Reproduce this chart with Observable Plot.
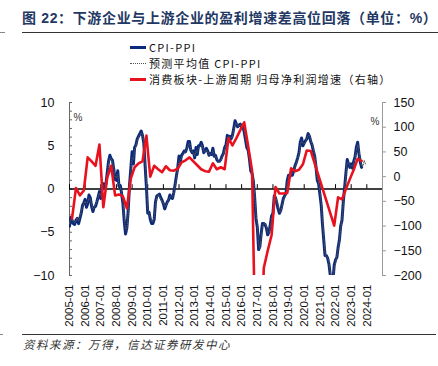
<!DOCTYPE html>
<html><head><meta charset="utf-8">
<script src="https://cdn.jsdelivr.net/npm/d3@7"></script>
<script src="https://cdn.jsdelivr.net/npm/@observablehq/plot@0.6"></script>
<style>
body{margin:0;background:#fff;}
#wrap{position:relative;width:438px;height:366px;overflow:hidden;background:#fff;}
#title{position:absolute;left:22px;top:10px;font-size:14px;line-height:17px;font-weight:bold;color:#1f3864;white-space:nowrap;font-family:"Liberation Sans","Noto Sans CJK SC",sans-serif;letter-spacing:0.65px;}
.hr{position:absolute;height:0;}
#legend{position:absolute;left:130px;top:39px;font-family:"Noto Sans CJK SC",sans-serif;font-size:11px;color:#111;letter-spacing:1.3px;}
.row{height:16px;display:flex;align-items:center;white-space:pre;}
.sw{width:16px;height:0;margin-right:3px;}
#source{position:absolute;left:23px;top:337px;font-family:"Noto Sans CJK SC",sans-serif;font-size:11.5px;line-height:15px;font-style:italic;color:#333;letter-spacing:1.5px;white-space:nowrap;}
#chart{position:absolute;left:0;top:0;}
</style></head>
<body><div id="wrap">
<div id="title">图 22：下游企业与上游企业的盈利增速差高位回落（单位：%）</div>
<div class="hr" style="left:22px;top:32px;width:416px;border-top:1.4px solid #333;"></div>
<div class="hr" style="left:0;top:32px;width:5px;border-top:1px solid #888;"></div>
<div id="chart"></div>
<div id="legend"></div>
<div class="hr" style="left:22px;top:334px;width:414px;border-top:1.4px solid #333;"></div>
<div class="hr" style="left:0;top:334px;width:3px;border-top:1px solid #888;"></div>
<div id="source">资料来源：万得，信达证券研发中心</div>
</div>
<script>
// ---- data ----
const seriesNames = ["CPI-PPI", "预测平均值 CPI-PPI", "消费板块-上游周期 归母净利润增速（右轴）"];
const monthlyStart = "2005-01";
const cpiPpi = [
 -4.3,-3.3,-3.6,-4.0,-4.1,-3.6,-3.4,-4.0,-3.4,-2.8,-1.9,-1.6,
 -1.2,-2.1,-1.7,-0.7,-1.0,-2.0,-2.6,-2.1,-2.0,-1.5,-0.9,-0.3,
 -1.1,0.1,0.6,0.2,0.6,1.9,3.2,3.9,3.5,3.3,2.3,1.1,
 1.0,2.1,0.3,0.4,-0.5,-1.7,-3.7,-5.2,-4.5,-2.6,0.4,2.3,
 4.3,2.9,4.8,5.1,5.8,6.1,6.4,6.7,6.2,5.3,2.7,0.2,
 -2.8,-2.7,-3.5,-4.0,-4.0,-3.5,-1.5,-0.8,-0.7,-0.6,-1.0,-1.3,
 -1.7,-2.3,-1.9,-1.5,-1.3,-0.7,-1.0,-1.1,-0.4,0.5,1.5,2.4,
 3.8,3.2,3.9,4.1,4.4,4.3,4.7,5.5,5.5,4.5,4.2,4.4,
 3.6,4.8,4.0,5.0,5.0,5.4,5.0,4.2,4.4,4.7,4.4,3.9,
 4.1,4.0,4.7,3.8,3.9,3.4,3.2,3.2,3.4,3.8,4.1,4.8,
 5.1,6.2,6.0,6.1,5.8,6.2,7.0,7.9,7.5,7.2,7.4,7.5,
 7.1,7.2,6.6,5.7,4.8,4.5,3.5,2.1,1.8,0.9,-1.0,-3.4,
 -4.4,-7.0,-6.7,-5.2,-4.0,-4.0,-4.1,-4.5,-5.3,-5.0,-4.1,-3.1,
 -2.8,-0.8,-1.0,-1.6,-2.3,-2.8,-2.5,-1.8,-1.1,-0.8,-0.5,1.0,
 1.6,1.4,1.9,1.6,2.1,2.7,3.1,3.6,4.2,5.4,5.9,5.0,
 5.3,5.6,5.8,6.4,6.1,5.5,5.1,4.4,3.8,2.6,1.0,0.6,
 -0.6,-1.9,-4.0,-5.9,-7.7,-7.7,-8.0,-8.7,-10.0,-12.0,-10.6,-8.8,
 -8.2,-7.9,-6.8,-5.9,-4.3,-3.6,-1.5,0.2,1.9,3.4,2.9,2.5,
 2.9,2.4,3.2,3.7,4.8,5.4,4.1,3.1,2.5
];
const forecastAvg = [
 -4.0,-3.6,-3.4,-3.8,-3.9,-3.7,-3.3,-3.7,-3.2,-2.6,-2.0,-1.7,
 -1.4,-1.8,-1.5,-1.0,-1.2,-1.8,-2.3,-2.2,-1.8,-1.4,-1.0,-0.5,
 -0.8,0.0,0.4,0.4,0.8,1.6,2.9,3.6,3.5,3.1,2.5,1.4,
 1.3,1.7,0.6,0.2,-0.3,-1.4,-3.2,-4.6,-4.8,-3.0,-0.2,1.8,
 3.6,3.4,4.4,5.0,5.5,6.0,6.2,6.5,6.3,5.4,3.2,0.9,
 -2.2,-2.9,-3.2,-3.7,-3.8,-3.2,-1.9,-1.0,-0.6,-0.8,-1.2,-1.5,
 -1.5,-2.0,-2.0,-1.6,-1.2,-0.9,-0.8,-1.0,-0.6,0.2,1.2,2.2,
 3.3,3.4,3.6,4.0,4.2,4.4,4.6,5.1,5.3,4.7,4.3,4.2,
 3.8,4.4,4.2,4.7,4.9,5.1,5.0,4.4,4.3,4.5,4.3,4.0,
 4.0,4.1,4.4,4.0,3.8,3.5,3.3,3.1,3.3,3.6,4.0,4.5,
 5.0,5.8,6.1,6.0,5.9,6.0,6.7,7.5,7.6,7.3,7.3,7.4,
 7.3,7.0,6.8,5.9,5.1,4.6,3.8,2.5,1.9,1.2,-0.5,-2.8,
 -4.0,-6.3,-6.9,-5.6,-4.4,-3.9,-4.0,-4.3,-5.0,-5.2,-4.4,-3.4,
 -3.0,-1.2,-0.8,-1.4,-2.0,-2.6,-2.7,-2.0,-1.4,-0.9,-0.6,0.6,
 1.4,1.5,1.7,1.8,2.0,2.5,3.0,3.4,4.0,5.0,5.6,5.3,
 5.2,5.4,5.9,6.2,6.2,5.7,5.2,4.6,4.0,2.9,1.4,0.7,
 -0.3,-1.5,-3.5,-5.5,-7.3,-7.9,-7.9,-8.5,-9.6,-11.4,-11.0,-9.2,
 -8.5,-7.7,-7.0,-6.1,-4.7,-3.4,-1.9,-0.2,1.6,3.0,3.1,2.6,
 2.7,2.6,3.0,3.5,4.5,5.1,4.4,3.3,2.7,2.6,3.3,2.9
];
const profitDates = [
 "2005-03","2005-06","2005-09","2005-12","2006-03","2006-06","2006-09","2006-12",
 "2007-03","2007-06","2007-09","2007-12","2008-03","2008-06","2008-09","2008-12",
 "2009-03","2009-06","2009-09","2009-12","2010-03","2010-06","2010-09","2010-12",
 "2011-03","2011-06","2011-09","2011-12","2012-03","2012-06","2012-09","2012-12",
 "2013-03","2013-06","2013-09","2013-12","2014-03","2014-06","2014-09","2014-12",
 "2015-03","2015-06","2015-09","2015-12","2016-03","2016-06","2016-09","2016-12",
 "2017-03","2017-06","2017-09","2017-12","2018-03","2018-06","2018-09","2018-12",
 "2019-03","2019-06","2019-09","2019-12","2020-03","2020-06",
 "2021-12","2022-03","2022-06","2022-09","2022-12","2023-03","2023-06","2023-09"
];
const profitGap = [
 -85,-23,-38,-28, 39,31,22,65,
 -62,-2,22,-38, -36,-40,-64,-4,
 19,27,31,83, 0,22,15,9,
 21,13,12,16, 29,33,39,31,
 23,15,11,10, 27,15,19,15,
 78,63,78,94, 110,62,12,-420,
 -450,-185,-150,-118, -21,-34,-34,-33,
 17,11,14,25, 53,52,
 -99,-42,-46,-25,-5,14,36,32
];
const leftTicks = [-10,-5,0,5,10];
const rightTicks = [150,100,50,0,-50,-100,-150,-200];
const xTickYears = ["2005-01","2006-01","2007-01","2008-01","2009-01","2010-01","2011-01","2012-01","2013-01","2014-01","2015-01","2016-01","2017-01","2018-01","2019-01","2020-01","2021-01","2022-01","2023-01","2024-01"];
const xDomain = ["2005-01","2025-01"];

const colors = {blue:"#0b2a7c", red:"#e8121f", dot:"#555"};

// ---- build ----
const parse = d3.utcParse("%Y-%m");
const start = parse(monthlyStart);
const blueData = cpiPpi.map((v,i)=>({date:d3.utcMonth.offset(start,i), v}));
const fcData = forecastAvg.map((v,i)=>({date:d3.utcMonth.offset(start,i), v}));
const redData = profitDates.map((d,i)=>({date:parse(d), v:profitGap[i]}));
const xTicks = xTickYears.map(parse);

// right axis (-200..150) mapped onto left axis (-10..10)
const rMin=-200, rMax=150, lMin=-10, lMax=10;
const toLeft = v => lMin + (v - rMin) * (lMax - lMin) / (rMax - rMin);
const fromLeft = y => rMin + (y - lMin) * (rMax - rMin) / (lMax - lMin);
const fmt = v => v < 0 ? "\u2212" + Math.abs(v) : String(v);

const W=438, H=330, mL=69, mR=56, mT=102, mB=55;
const chart = Plot.plot({
  width:W, height:H, marginTop:mT, marginBottom:mB, marginLeft:mL, marginRight:mR,
  x:{type:"utc", domain:xDomain.map(parse)},
  y:{domain:[lMin,lMax]},
  style:{fontFamily:"'Liberation Sans', Arial, sans-serif", fontSize:"12.5px", color:"#111", background:"transparent", overflow:"visible"},
  marks:[
    Plot.frame({anchor:"left", stroke:"#666"}),
    Plot.frame({anchor:"right", stroke:"#9a9a9a"}),
    Plot.tickY(d3.range(lMin,lMax+1), {stroke:"#666", insetRight:(W-mL-mR)-3}),
    Plot.axisY(leftTicks, {anchor:"left", tickSize:0, tickPadding:15, tickFormat:fmt, label:null}),
    Plot.axisY(rightTicks.map(toLeft), {anchor:"right", tickSize:3, tickPadding:8, stroke:"#9a9a9a", tickFormat:d=>fmt(Math.round(fromLeft(d))), label:null}),
    Plot.axisX(xTicks, {anchor:"bottom", tickSize:0, tickPadding:9, tickRotate:-90, tickFormat:d3.utcFormat("%Y-%m"), fontSize:11.5, label:null}),
    Plot.ruleY([0], {stroke:"#000", strokeWidth:1.6}),
    Plot.ruleX(xTicks, {y1:0, y2:0.5, stroke:"#000", strokeWidth:1}),
    Plot.line(blueData, {x:"date", y:"v", stroke:colors.blue, strokeWidth:3, clip:true, strokeLinejoin:"round"}),
    Plot.line(fcData, {x:"date", y:"v", stroke:colors.dot, strokeWidth:1, strokeDasharray:"1,1.5", clip:true}),
    Plot.line(redData, {x:"date", y:d=>toLeft(d.v), stroke:colors.red, strokeWidth:2.6, clip:true, strokeLinejoin:"round"}),
    Plot.text(["%"], {frameAnchor:"top-left", dx:4, dy:11, fontSize:10, fill:"#333"}),
    Plot.text(["%"], {frameAnchor:"top-right", dx:-3, dy:15, fontSize:10, fill:"#333"})
  ]
});
document.getElementById("chart").appendChild(chart);

// legend
const legend = document.getElementById("legend");
const swatches = [
  `border-top:3px solid ${colors.blue}`,
  `border-top:1px dotted ${colors.dot}`,
  `border-top:3px solid ${colors.red}`
];
seriesNames.forEach((name,i)=>{
  const row = document.createElement("div"); row.className="row";
  const sw = document.createElement("span"); sw.className="sw"; sw.style.cssText = swatches[i];
  const t = document.createElement("span"); t.textContent = name;
  row.appendChild(sw); row.appendChild(t); legend.appendChild(row);
});
</script>
</body></html>
